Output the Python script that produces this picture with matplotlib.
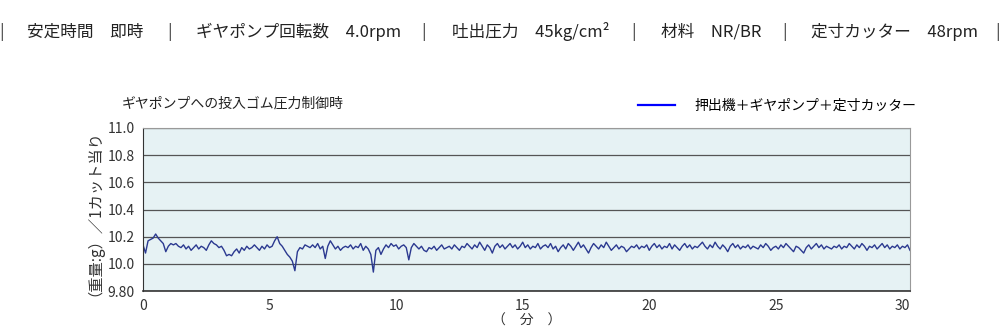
import matplotlib
matplotlib.use('Agg')
import matplotlib.pyplot as plt
import numpy as np

plt.rcParams['font.family'] = ['Noto Sans CJK JP', 'DejaVu Sans']

# Header conditions
header_items = ['安定時間　即時', 'ギヤポンプ回転数　4.0rpm', '吐出圧力　45kg/cm²', '材料　NR/BR', '定寸カッター　48rpm']
header_x = [0.027, 0.196, 0.452, 0.661, 0.811]
sep_x = [0.002, 0.170, 0.424, 0.634, 0.785, 0.998]

# Weight per cut (g), one reading every 0.1 min
weight = [
    10.14, 10.08, 10.17, 10.18, 10.19, 10.22, 10.19, 10.17, 10.15, 10.09,
    10.13, 10.15, 10.14, 10.15, 10.13, 10.12, 10.14, 10.11, 10.13, 10.10,
    10.12, 10.14, 10.11, 10.13, 10.12, 10.10, 10.14, 10.17, 10.15, 10.14,
    10.12, 10.13, 10.10, 10.06, 10.07, 10.06, 10.09, 10.11, 10.08, 10.12,
    10.10, 10.13, 10.11, 10.12, 10.14, 10.12, 10.10, 10.13, 10.11, 10.14,
    10.12, 10.13, 10.17, 10.20, 10.15, 10.13, 10.10, 10.07, 10.05, 10.02,
    9.95, 10.09, 10.12, 10.11, 10.14, 10.13, 10.12, 10.14, 10.12, 10.15,
    10.11, 10.13, 10.04, 10.13, 10.17, 10.14, 10.11, 10.13, 10.10, 10.12,
    10.13, 10.12, 10.14, 10.11, 10.13, 10.12, 10.15, 10.10, 10.13, 10.11,
    10.07, 9.94, 10.10, 10.12, 10.07, 10.11, 10.14, 10.12, 10.15, 10.13,
    10.14, 10.11, 10.13, 10.14, 10.12, 10.03, 10.12, 10.15, 10.13, 10.11,
    10.13, 10.10, 10.09, 10.12, 10.11, 10.13, 10.10, 10.12, 10.14, 10.11,
    10.12, 10.13, 10.11, 10.14, 10.12, 10.10, 10.13, 10.12, 10.15, 10.13,
    10.11, 10.14, 10.12, 10.16, 10.13, 10.10, 10.14, 10.12, 10.08, 10.13,
    10.15, 10.12, 10.14, 10.11, 10.13, 10.15, 10.12, 10.14, 10.11, 10.13,
    10.16, 10.12, 10.14, 10.11, 10.13, 10.12, 10.15, 10.11, 10.13, 10.14,
    10.12, 10.15, 10.11, 10.13, 10.09, 10.12, 10.14, 10.11, 10.15, 10.13,
    10.10, 10.13, 10.16, 10.12, 10.14, 10.11, 10.08, 10.12, 10.15, 10.13,
    10.11, 10.14, 10.12, 10.16, 10.13, 10.10, 10.12, 10.14, 10.11, 10.13,
    10.12, 10.09, 10.11, 10.13, 10.12, 10.14, 10.11, 10.13, 10.12, 10.14,
    10.10, 10.13, 10.15, 10.12, 10.14, 10.11, 10.13, 10.12, 10.15, 10.11,
    10.14, 10.12, 10.10, 10.13, 10.15, 10.12, 10.14, 10.11, 10.13, 10.12,
    10.14, 10.16, 10.13, 10.11, 10.14, 10.12, 10.16, 10.13, 10.11, 10.14,
    10.12, 10.09, 10.13, 10.15, 10.12, 10.14, 10.11, 10.13, 10.12, 10.14,
    10.11, 10.13, 10.12, 10.11, 10.14, 10.12, 10.15, 10.13, 10.10, 10.12,
    10.13, 10.11, 10.14, 10.12, 10.15, 10.13, 10.11, 10.09, 10.13, 10.12,
    10.10, 10.08, 10.12, 10.14, 10.11, 10.13, 10.15, 10.12, 10.14, 10.11,
    10.13, 10.12, 10.11, 10.13, 10.12, 10.14, 10.11, 10.13, 10.12, 10.15,
    10.13, 10.11, 10.14, 10.12, 10.15, 10.13, 10.10, 10.13, 10.12, 10.14,
    10.11, 10.13, 10.15, 10.12, 10.14, 10.11, 10.13, 10.12, 10.14, 10.11,
    10.13, 10.12, 10.14, 10.10,
]
minutes = np.arange(len(weight)) * 0.1

yticks = [9.8, 10.0, 10.2, 10.4, 10.6, 10.8, 11.0]
ytick_labels = ['9.80', '10.0', '10.2', '10.4', '10.6', '10.8', '11.0']
xticks = [0, 5, 10, 15, 20, 25, 30]

fig = plt.figure(figsize=(10, 3.35), dpi=100)

# header row
for x, t in zip(header_x, header_items):
    fig.text(x, 0.905, t, fontsize=12, color='#222222', va='center')
for x in sep_x:
    fig.text(x, 0.905, '|', fontsize=12, color='#444444', va='center', ha='center')

ax = fig.add_axes([0.143, 0.131, 0.767, 0.487])
ax.set_facecolor('#e6f2f4')
ax.plot(minutes, weight, color='#2b3990', lw=1.0, label='押出機＋ギヤポンプ＋定寸カッター')

ax.set_xlim(0, 30.3)
ax.set_ylim(9.8, 11.0)
ax.set_yticks(yticks)
ax.set_yticklabels(ytick_labels)
ax.set_xticks(xticks)
ax.tick_params(length=0, labelsize=10, colors='#333333', pad=6)
ax.yaxis.grid(True, color='#555555', lw=0.9)
ax.set_axisbelow(True)

for s in ['top', 'right']:
    ax.spines[s].set_color('#999999')
    ax.spines[s].set_linewidth(0.8)
ax.spines['left'].set_color('#333333')
ax.spines['bottom'].set_color('#333333')
ax.spines['bottom'].set_linewidth(1.2)

ax.set_ylabel('（重量:g）／1カット当り', fontsize=11, color='#333333', labelpad=9)
ax.set_xlabel('（　分　）', fontsize=10, color='#333333', labelpad=0)

fig.text(0.122, 0.692, 'ギヤポンプへの投入ゴム圧力制御時', fontsize=10, color='#222222', va='center')
ax.legend(loc='lower right', bbox_to_anchor=(1.016, 1.06), frameon=False, fontsize=10,
          handlelength=2.7, handletextpad=1.4, borderaxespad=0)
ax.get_legend().get_lines()[0].set_color('#0000ff')
ax.get_legend().get_lines()[0].set_linewidth(1.6)

fig.savefig('out.png', dpi=100)
